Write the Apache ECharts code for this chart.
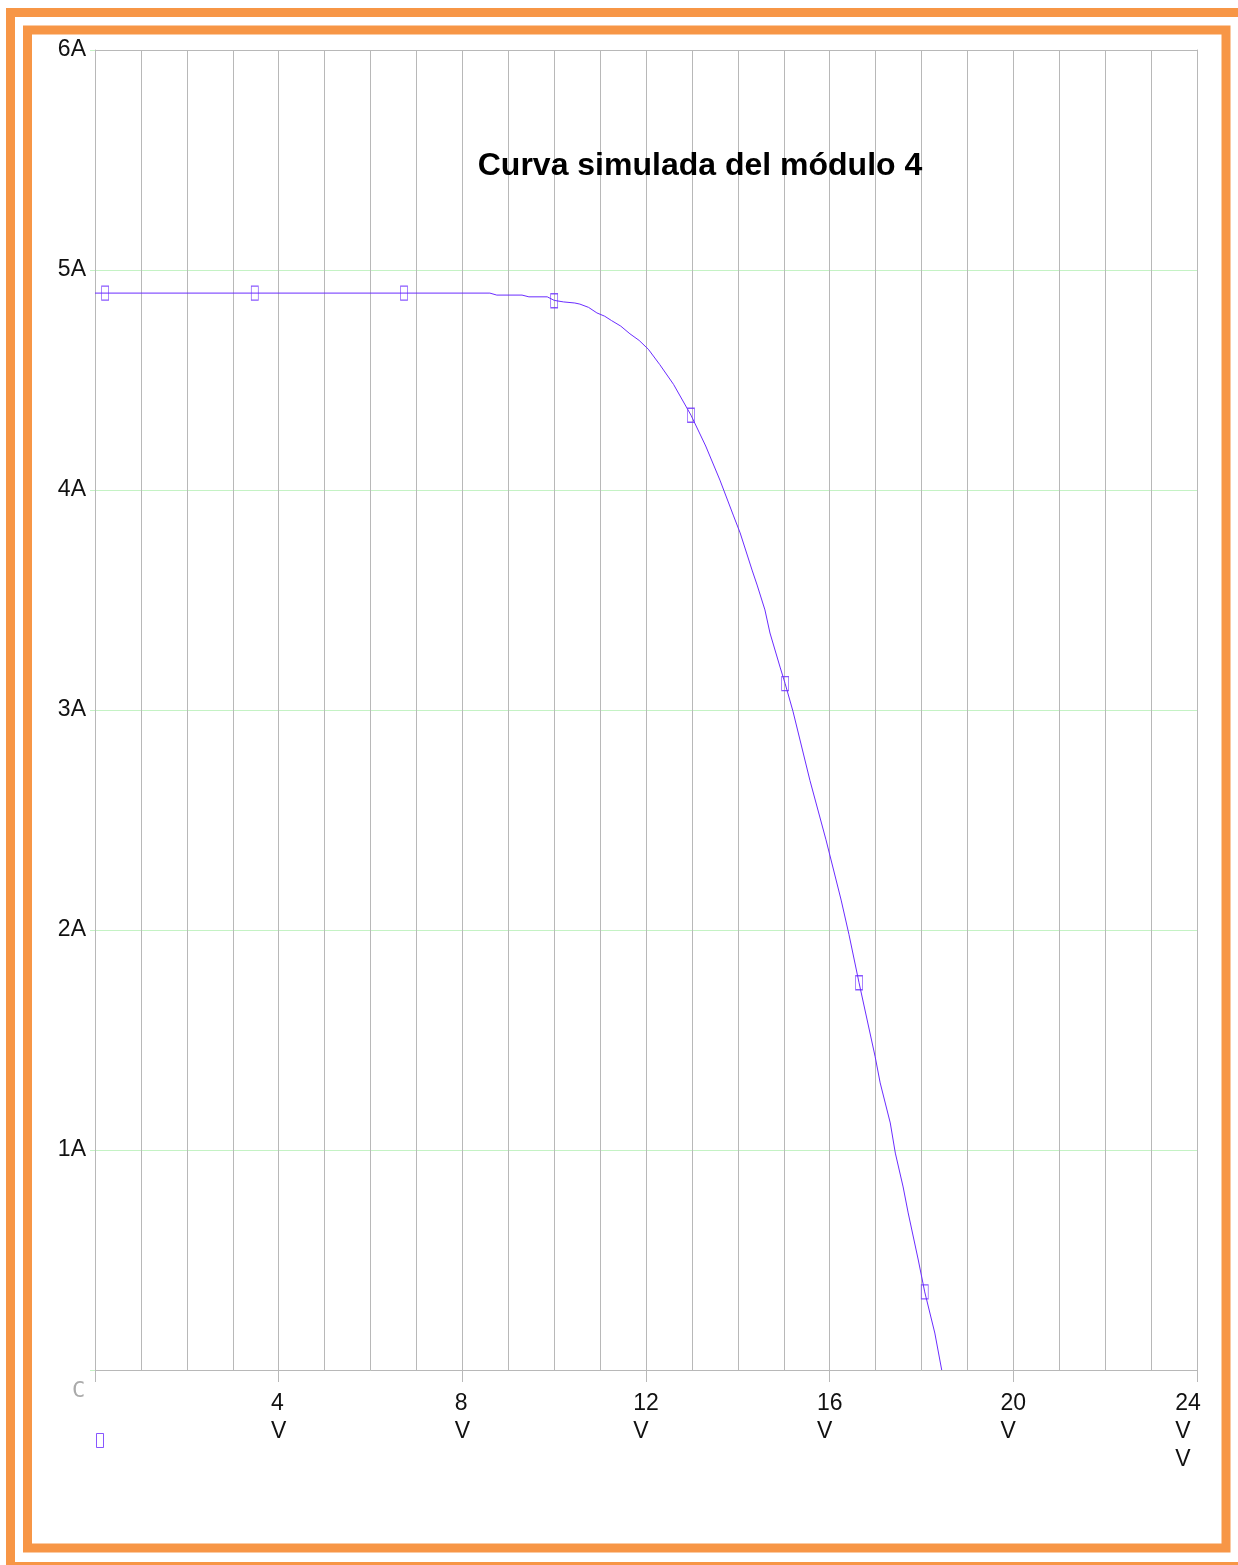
<!DOCTYPE html>
<html>
<head>
<meta charset="utf-8">
<script src="https://cdn.jsdelivr.net/npm/echarts@6/dist/echarts.min.js"></script>
<style>html,body{margin:0;padding:0;background:#fff}#c{width:1238px;height:1565px}</style>
</head>
<body>
<div id="c"></div>
<script>
const titleText = 'Curva simulada del módulo 4';
const voltage = [0, 8.6, 8.75, 9.3, 9.45, 9.85, 10.0, 10.2, 10.45, 10.56, 10.75, 10.93, 11.1, 11.25, 11.45, 11.65, 11.85, 12.05, 12.3, 12.6, 12.98, 13.3, 13.61, 13.9, 14.05, 14.31, 14.42, 14.59, 14.7, 14.92, 15.03, 15.2, 15.57, 15.92, 16.25, 16.42, 16.64, 16.99, 17.1, 17.32, 17.43, 17.6, 17.71, 17.93, 18.07, 18.29, 18.44];
const current = [4.895, 4.895, 4.886, 4.886, 4.878, 4.878, 4.862, 4.855, 4.85, 4.845, 4.83, 4.805, 4.79, 4.77, 4.745, 4.71, 4.68, 4.64, 4.57, 4.48, 4.34, 4.2, 4.045, 3.886, 3.805, 3.636, 3.568, 3.455, 3.35, 3.195, 3.12, 2.995, 2.68, 2.41, 2.136, 1.98, 1.76, 1.425, 1.305, 1.123, 0.986, 0.832, 0.714, 0.5, 0.355, 0.168, 0];
const markerVoltage = [0.22, 3.48, 6.73, 10.0, 12.98, 15.03, 16.64, 18.07];
const markerCurrent = [4.895, 4.895, 4.895, 4.86, 4.34, 3.12, 1.76, 0.355];
const xTicks = [0, 4, 8, 12, 16, 20, 24];
const xTickLabels = ['', '4\nV', '8\nV', '12\nV', '16\nV', '20\nV', '24\nV\nV'];
const yTicks = [0, 1, 2, 3, 4, 5, 6];
const yTickLabels = ['', '1A', '2A', '3A', '4A', '5A', '6A'];

const purple = '#6a2cff';
const orange = '#f79646';
const gray = '#b8b8b8';
const green = '#c4f2c4';
const font = '"Liberation Sans", Arial, sans-serif';

const chart = echarts.init(document.getElementById('c'));
chart.setOption({
  animation: false,
  backgroundColor: '#fff',
  title: {
    text: titleText,
    left: 695, top: 145, textAlign: 'center',
    textStyle: { fontFamily: font, fontSize: 32, fontWeight: 'bold', color: '#000' }
  },
  legend: {
    left: 91, top: 1428,
    itemWidth: 7, itemHeight: 14,
    formatter: () => '',
    data: [{ name: 'puntos', icon: 'rect', itemStyle: { color: 'rgba(0,0,0,0)', borderColor: purple, borderWidth: 1 } }]
  },
  grid: { left: 95, top: 50, width: 1102, height: 1320, show: false },
  xAxis: [{
    type: 'value', min: 0, max: 24, interval: 4,
    axisLine: { show: true, lineStyle: { color: gray } },
    axisTick: { show: true, length: 12, inside: false, lineStyle: { color: gray } },
    splitLine: { show: true, lineStyle: { color: gray } },
    minorTick: { show: false, splitNumber: 4 },
    minorSplitLine: { show: true, lineStyle: { color: gray } },
    axisLabel: {
      margin: 20,
      formatter: v => {
        const i = xTicks.indexOf(v);
        const s = i >= 0 ? xTickLabels[i] : '';
        if (!s) return '';
        const key = v === 24 ? 'e' : 'n';
        return s.split('\n').map(p => '{' + key + '|' + p + '}').join('\n');
      },
      rich: {
        n: { fontFamily: font, fontSize: 23, color: '#111', lineHeight: 28, align: 'left' },
        e: { fontFamily: font, fontSize: 23, color: '#111', lineHeight: 28, align: 'left', padding: [0, 18, 0, 0] }
      }
    }
  }, {
    type: 'value', min: 0, max: 24, position: 'top',
    axisLine: { show: true, onZero: false, lineStyle: { color: gray } },
    axisTick: { show: false }, axisLabel: { show: false }, splitLine: { show: false }
  }],
  yAxis: [{
    type: 'value', min: 0, max: 6, interval: 1,
    axisLine: { show: true, lineStyle: { color: gray } },
    axisTick: { show: true, length: 5, lineStyle: { color: green } },
    splitLine: { show: true, lineStyle: { color: green } },
    axisLabel: {
      margin: 9, fontFamily: font, fontSize: 23, color: '#111',
      formatter: v => { const i = yTicks.indexOf(v); return i >= 0 ? yTickLabels[i] : ''; }
    }
  }, {
    type: 'value', min: 0, max: 6, position: 'right',
    axisLine: { show: true, onZero: false, lineStyle: { color: gray } },
    axisTick: { show: false }, axisLabel: { show: false }, splitLine: { show: false }
  }],
  series: [
    {
      type: 'line', name: 'curva', data: voltage.map((v, i) => [v, current[i]]),
      showSymbol: false, smooth: false, lineStyle: { color: purple, width: 1 }, z: 3
    },
    {
      type: 'scatter', name: 'puntos', data: markerVoltage.map((v, i) => [v, markerCurrent[i]]),
      symbol: 'rect', symbolSize: [7, 14],
      itemStyle: { color: 'rgba(0,0,0,0)', borderColor: purple, borderWidth: 1 }, z: 4
    }
  ],
  graphic: [
    { type: 'rect', shape: { x: 10.5, y: 12.5, width: 1245, height: 1554 }, style: { fill: 'none', stroke: orange, lineWidth: 9 }, silent: true },
    { type: 'rect', shape: { x: 27.5, y: 30, width: 1198.5, height: 1518 }, style: { fill: 'none', stroke: orange, lineWidth: 9 }, silent: true },
    { type: 'text', left: 72, top: 1380, style: { text: 'C', fontFamily: '"DejaVu Sans Mono", monospace', fontSize: 22, fill: '#aaa' }, silent: true }
  ]
});
</script>
</body>
</html>
